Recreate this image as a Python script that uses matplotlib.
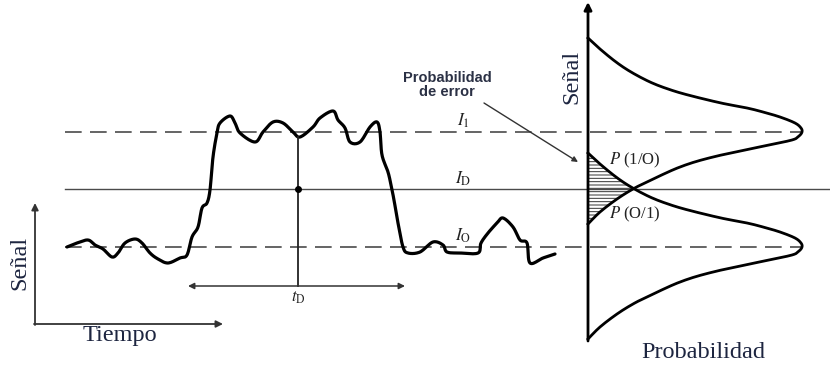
import numpy as np
import matplotlib.pyplot as plt

plt.rcParams['mathtext.fontset'] = 'stix'
plt.rcParams['hatch.linewidth'] = 0.7

# noisy received signal (time, level), drawn in page units
trace_t = [67, 77, 88, 95, 103, 112, 118, 125, 135, 142, 150, 158, 168, 180, 187,
           192, 198, 202, 207, 210, 213, 217, 220, 230, 235, 240, 255, 263, 273, 283,
           293, 300, 313, 320, 333, 338, 345, 350, 360, 370, 377, 380, 382, 388, 391,
           394, 398, 403, 408, 420, 433, 443, 447, 460, 478, 481, 488, 497, 503, 513,
           520, 527, 530, 543, 555]
trace_s = [247, 243, 240, 245, 249, 257, 253, 243, 239, 243, 253, 259, 263, 258, 255,
           237, 227, 208, 203, 190, 157, 133, 123, 116, 123, 133, 142, 132, 122, 123,
           132, 137, 127, 118, 111, 120, 128, 142, 142, 127, 122, 132, 155, 172, 185,
           200, 223, 247, 253, 252, 242, 245, 252, 253, 253, 243, 233, 223, 218, 227,
           240, 243, 263, 258, 254]

level_1 = 132
level_d = 189
level_0 = 247
t_sample = 298

# probability density profile around each level (offset, density)
offset = [-94, -83, -70, -60, -50, -43, -37, -29, -24, -20, -15, -9, -4, 0,
          4, 8, 14, 25, 35, 50, 57, 67, 80, 92]
density = [0, 12, 28, 43, 62, 80, 100, 133, 159, 175, 192, 207, 213, 214,
           211, 204, 176, 125, 92, 59, 45, 29, 12, 0]

x_axis = 588
y_base = 340


def smooth(x, y, n=12):
    # Catmull-Rom pass so the hand-read points render as a smooth stroke
    p = np.column_stack([x, y]).astype(float)
    p = np.vstack([p[0], p, p[-1]])
    out = []
    for i in range(1, len(p) - 2):
        p0, p1, p2, p3 = p[i - 1], p[i], p[i + 1], p[i + 2]
        for t in np.linspace(0, 1, n, endpoint=False):
            out.append(0.5 * (2 * p1 + (-p0 + p2) * t
                              + (2 * p0 - 5 * p1 + 4 * p2 - p3) * t ** 2
                              + (-p0 + 3 * p1 - 3 * p2 + p3) * t ** 3))
    out.append(p[-2])
    out = np.array(out)
    return out[:, 0], out[:, 1]


fig = plt.figure(figsize=(8.3, 3.66), dpi=100)
ax = fig.add_axes([0, 0, 1, 1])
ax.set_xlim(0, 830)
ax.set_ylim(366, 0)
ax.axis('off')

grey = '#4a4a4a'
ink = '#1d2540'
serif = 'Liberation Serif'

# threshold levels
ax.plot([65, 803], [level_1, level_1], color=grey, lw=1.2, dashes=(10, 5))
ax.plot([65, 830], [level_d, level_d], color=grey, lw=1.0)
ax.plot([65, 803], [level_0, level_0], color=grey, lw=1.2, dashes=(10, 5))

# signal trace
sx, sy = smooth(trace_t, trace_s)
ax.plot(sx, sy, color='black', lw=2.3, solid_capstyle='round', solid_joinstyle='round')

# sampling instant
ax.plot([t_sample, t_sample], [137, 286], color='#222222', lw=1.3)
ax.plot(t_sample, level_d, 'o', color='black', ms=4)
ax.annotate('', xy=(188, 286), xytext=(405, 286),
            arrowprops=dict(arrowstyle='<|-|>', color='#333333', lw=1.1,
                            mutation_scale=9, shrinkA=0, shrinkB=0))
ax.text(t_sample, 297, r'$t_{\mathrm{D}}$', fontsize=12, ha='center', va='center', color='#222222')

ax.text(463, 121, r'$I_1$', fontsize=12.5, ha='center', va='center', color='#222222')
ax.text(463, 179, r'$I_{\mathrm{D}}$', fontsize=12.5, ha='center', va='center', color='#222222')
ax.text(463, 236, r'$I_{\mathrm{O}}$', fontsize=12.5, ha='center', va='center', color='#222222')

# left axes
ax.annotate('', xy=(35, 203), xytext=(35, 325),
            arrowprops=dict(arrowstyle='-|>', color='#333333', lw=1.3,
                            mutation_scale=10, shrinkA=0, shrinkB=0))
ax.annotate('', xy=(223, 324), xytext=(34, 324),
            arrowprops=dict(arrowstyle='-|>', color='#333333', lw=1.3,
                            mutation_scale=10, shrinkA=0, shrinkB=0))
ax.text(20, 263, 'Señal', rotation=90, fontsize=17.5, family=serif,
        ha='center', va='center', color=ink)
ax.text(120, 336, 'Tiempo', fontsize=17.5, family=serif,
        ha='center', va='center', color=ink)

# probability densities
off = np.array(offset, dtype=float)
dens = np.array(density, dtype=float)
d1y, d1x = smooth(level_1 + off, dens)
d0y, d0x = smooth(level_0 + off, dens)
ax.plot(x_axis + d1x, d1y, color='black', lw=2.0)
ax.plot(x_axis + d0x, d0y, color='black', lw=2.0)

# overlap of the two tails -> error probability
yy = np.linspace(level_0 - 94, level_1 + 92, 200)
overlap = np.minimum(np.interp(yy, d1y, d1x), np.interp(yy, d0y, d0x))
ax.fill_betweenx(yy, x_axis, x_axis + overlap, facecolor='white',
                 edgecolor='#333333', hatch='-----', lw=0)

ax.text(609, 160, r'$P$ (1/O)', fontsize=12, family=serif,
        ha='left', va='center', color='#222222')
ax.text(609, 214, r'$P$ (O/1)', fontsize=12, family=serif,
        ha='left', va='center', color='#222222')

# right axes
ax.annotate('', xy=(x_axis, 2), xytext=(x_axis, y_base + 1),
            arrowprops=dict(arrowstyle='-|>', color='black', lw=2.0,
                            mutation_scale=11, shrinkA=0, shrinkB=0))
ax.annotate('', xy=(832, y_base), xytext=(x_axis - 1, y_base),
            arrowprops=dict(arrowstyle='-|>', color='#333333', lw=1.3,
                            mutation_scale=10, shrinkA=0, shrinkB=0))
ax.text(572, 77, 'Señal', rotation=90, fontsize=17.5, family=serif,
        ha='center', va='center', color=ink)
ax.text(703, 353, 'Probabilidad', fontsize=17.5, family=serif,
        ha='center', va='center', color=ink)

# pointer to the error region
ax.text(447, 85, 'Probabilidad\nde error', fontsize=10.5, fontweight='bold',
        family='Liberation Sans', ha='center', va='center', color='#2b3145',
        linespacing=0.95)
ax.annotate('', xy=(578, 162), xytext=(484, 103),
            arrowprops=dict(arrowstyle='-|>', color='#333333', lw=1.0,
                            mutation_scale=8, shrinkA=0, shrinkB=0))

fig.savefig('out.png', dpi=100)
